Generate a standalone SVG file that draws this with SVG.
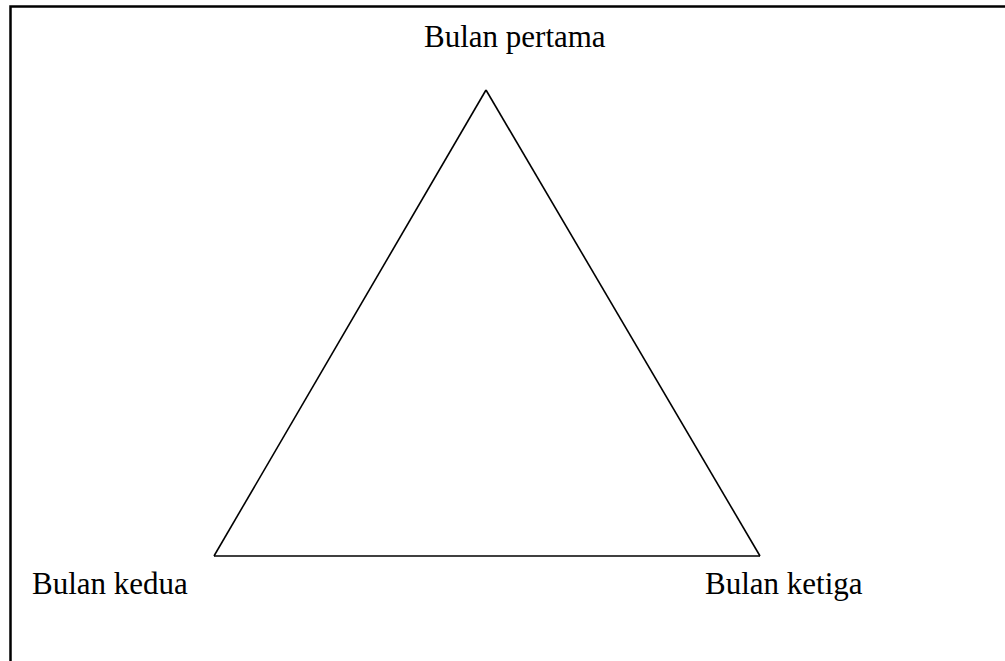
<svg xmlns="http://www.w3.org/2000/svg" width="1005" height="661" viewBox="0 0 1005 661">
<style>
.lbl{font-family:"Liberation Serif","Times New Roman",serif;font-size:31px;fill:#000}
.edge{stroke:#000;stroke-width:1.6;fill:none}
</style>
<rect x="0" y="0" width="1005" height="661" fill="#fff"/>
<path d="M10.5 675 V6.5 H1020" fill="none" stroke="#000" stroke-width="2.5"/>
<g id="connectors">
<line class="edge" x1="486" y1="90" x2="214" y2="556"/>
<line class="edge" x1="486" y1="90" x2="760" y2="556"/>
<line class="edge" x1="214" y1="556" x2="760" y2="556"/>
</g>
<g id="node-pertama"><text class="lbl" x="424" y="47">Bulan pertama</text></g>
<g id="node-kedua"><text class="lbl" x="32" y="594">Bulan kedua</text></g>
<g id="node-ketiga"><text class="lbl" x="705" y="594">Bulan ketiga</text></g>
</svg>
